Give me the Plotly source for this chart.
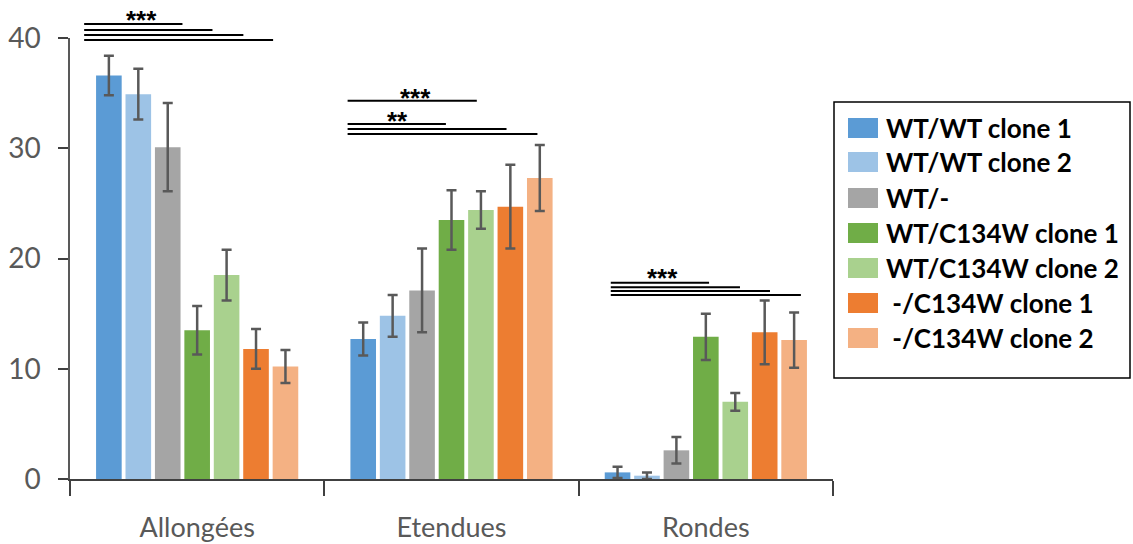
import plotly.graph_objects as go

categories = ["Allongées", "Etendues", "Rondes"]
series_names = ["WT/WT clone 1", "WT/WT clone 2", "WT/-", "WT/C134W clone 1",
                "WT/C134W clone 2", "\u00a0-/C134W clone 1", "\u00a0-/C134W clone 2"]
colors = ["#5B9BD5", "#9DC3E6", "#A5A5A5", "#70AD47", "#A9D18E", "#ED7D31", "#F4B183"]

wt_wt_1 = [36.6, 12.7, 0.6]
wt_wt_2 = [34.9, 14.8, 0.3]
wt_minus = [30.1, 17.1, 2.6]
wt_c134w_1 = [13.5, 23.5, 12.9]
wt_c134w_2 = [18.5, 24.4, 7.0]
minus_c134w_1 = [11.8, 24.7, 13.3]
minus_c134w_2 = [10.2, 27.3, 12.6]

err_wt_wt_1 = [1.8, 1.5, 0.5]
err_wt_wt_2 = [2.3, 1.9, 0.3]
err_wt_minus = [4.0, 3.8, 1.2]
err_wt_c134w_1 = [2.2, 2.7, 2.1]
err_wt_c134w_2 = [2.3, 1.7, 0.8]
err_minus_c134w_1 = [1.8, 3.8, 2.9]
err_minus_c134w_2 = [1.5, 3.0, 2.5]

values = [wt_wt_1, wt_wt_2, wt_minus, wt_c134w_1, wt_c134w_2, minus_c134w_1, minus_c134w_2]
errors = [err_wt_wt_1, err_wt_wt_2, err_wt_minus, err_wt_c134w_1, err_wt_c134w_2,
          err_minus_c134w_1, err_minus_c134w_2]

y_ticks = [0, 10, 20, 30, 40]

# significance brackets: category index, start/end (in bar slots from group start), level
sig_cat = [0, 0, 0, 0, 1, 1, 1, 1, 2, 2, 2, 2]
sig_from = [-0.34, -0.34, -0.34, -0.34, -0.03, -0.03, -0.03, -0.03, 0.27, 0.27, 0.27, 0.27]
sig_to = [3.0, 4.02, 5.07, 6.08, 4.36, 3.31, 5.37, 6.42, 3.61, 4.66, 5.68, 6.73]
sig_level = [41.27, 40.73, 40.27, 39.82, 34.3, 32.2, 31.75, 31.3, 17.8, 17.4, 17.05, 16.7]

star_cat = [0, 1, 1, 2]
star_pos = [1.6, 2.28, 1.67, 2.04]
star_level = [42.1, 35.0, 32.9, 18.7]
star_text = ["***", "***", "**", "***"]

Y_MAX = 40
BARGAP = 0.19
GROUPGAP = 0.13
N = len(values)

W, H = 1133, 544
ML, MR, MT, MB = 70, 300, 38, 65
PW, PH = W - ML - MR, H - MT - MB


def slot_x(cat, p):
    group_w = 1 - BARGAP
    return cat - group_w / 2 + p * group_w / N


def px_to_paper_x(px):
    return (px - ML) / PW


def px_to_paper_y(py):
    return (H - MB - py) / PH


fig = go.Figure()
for name, vals, errs, col in zip(series_names, values, errors, colors):
    fig.add_trace(go.Bar(
        x=categories, y=vals, name=name, marker=dict(color=col, line=dict(width=0)),
        error_y=dict(type="data", array=errs, visible=True, color="#595959",
                     thickness=2.5, width=5),
        showlegend=False,
    ))

shapes = []
annotations = []
for c, a, b, lv in zip(sig_cat, sig_from, sig_to, sig_level):
    shapes.append(dict(type="line", xref="x", yref="paper",
                       x0=slot_x(c, a), x1=slot_x(c, b),
                       y0=lv / Y_MAX, y1=lv / Y_MAX,
                       line=dict(color="black", width=2)))
for c, p, lv, t in zip(star_cat, star_pos, star_level, star_text):
    annotations.append(dict(xref="x", yref="paper", x=slot_x(c, p), y=lv / Y_MAX,
                            text="<b>" + t + "</b>", showarrow=False,
                            font=dict(size=26, color="black", family="Liberation Sans"),
                            yanchor="middle", xanchor="center", yshift=-5))

# custom legend
leg_x0, leg_x1, leg_y0, leg_y1 = 834, 1130, 102, 378
shapes.append(dict(type="rect", xref="paper", yref="paper",
                   x0=px_to_paper_x(leg_x0), x1=px_to_paper_x(leg_x1),
                   y0=px_to_paper_y(leg_y1), y1=px_to_paper_y(leg_y0),
                   line=dict(color="black", width=1.5), fillcolor="white"))
item_y = [128, 162, 198, 233, 268, 303, 338]
for i, (name, col) in enumerate(zip(series_names, colors)):
    yc = item_y[i]
    shapes.append(dict(type="rect", xref="paper", yref="paper",
                       x0=px_to_paper_x(848), x1=px_to_paper_x(878),
                       y0=px_to_paper_y(yc + 10), y1=px_to_paper_y(yc - 10),
                       line=dict(width=0), fillcolor=col))
    annotations.append(dict(xref="paper", yref="paper", x=px_to_paper_x(884),
                            y=px_to_paper_y(yc), text="<b>" + name + "</b>", showarrow=False,
                            xanchor="left", yanchor="middle",
                            font=dict(size=26, color="black", family="Lato")))

fig.update_layout(
    width=W, height=H,
    margin=dict(l=ML, r=MR, t=MT, b=MB, pad=0, autoexpand=False),
    paper_bgcolor="white", plot_bgcolor="white",
    barmode="group", bargap=BARGAP, bargroupgap=GROUPGAP,
    shapes=shapes, annotations=annotations,
    showlegend=False,
    font=dict(family="Lato", color="#595959"),
    xaxis=dict(type="category", tickson="boundaries", ticks="outside", ticklen=15,
               tickcolor="#404040", tickwidth=1.5, showline=True, linecolor="#404040",
               linewidth=1.5, tickfont=dict(size=27, color="#595959", family="Lato"),
               ticklabelstandoff=24, showgrid=False, zeroline=False, automargin=False,
               range=[-0.5, 2.5]),
    yaxis=dict(range=[0, Y_MAX], tickvals=y_ticks, ticks="outside", ticklen=10,
               tickcolor="#404040", tickwidth=1.5, showline=True, linecolor="#595959",
               linewidth=1.5, showgrid=False, zeroline=False, automargin=False,
               tickprefix="<b>", ticksuffix="</b>",
               tickfont=dict(size=28, color="#595959", family="Lato"),
               ticklabelstandoff=12),
)

fig.write_html("out.html", config={"displayModeBar": False},
               post_script="document.body.style.margin='0';document.body.style.overflow='hidden';")
